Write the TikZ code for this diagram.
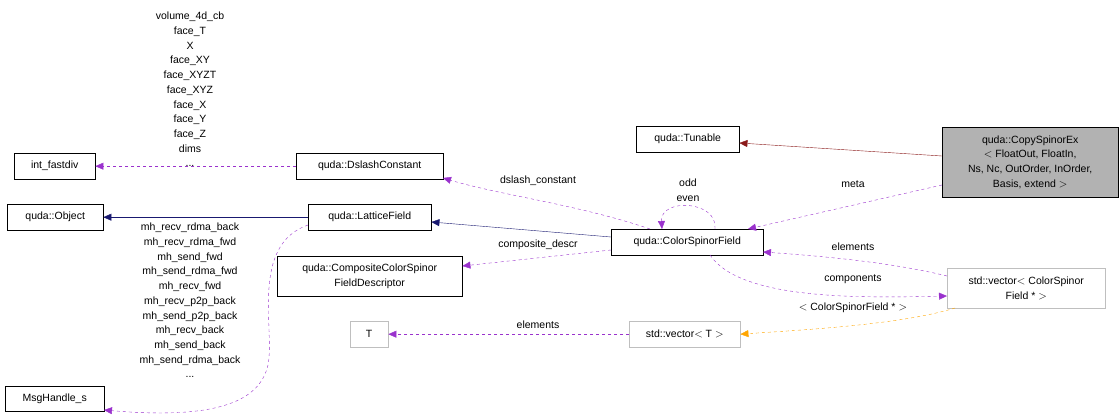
\documentclass[tikz,border=0pt]{standalone}
\usepackage{fontspec}
\setmainfont{Liberation Sans}
\usetikzlibrary{arrows.meta}
\definecolor{pur}{HTML}{9A32CD}
\definecolor{nav}{HTML}{191970}
\definecolor{drd}{HTML}{8B1A1A}
\definecolor{org}{HTML}{FFA500}
\begin{document}
\begin{tikzpicture}[x=1pt,y=-1pt,font=\fontsize{10.5}{14.7}\selectfont,
 box/.style={draw=black,fill=white,inner sep=0pt,align=center,anchor=north west},
 gbox/.style={box,draw=gray!50},
 dep/.style={draw=pur,dashed,-{Triangle[length=8pt,width=7pt,fill=pur]}},
 inh/.style={draw=nav,-{Triangle[length=8pt,width=7pt,fill=nav]}},
 tun/.style={draw=drd,-{Triangle[length=8pt,width=7pt,fill=drd]}},
 tpl/.style={draw=org,dashed,-{Triangle[length=8pt,width=7pt,fill=org]}},
 lab/.style={inner sep=0pt,align=center}]
\useasboundingbox (0,0) rectangle (1120,420);
\node[box,fill=gray!60,minimum width=176pt,minimum height=70pt] (cse) at (942,127) {quda::CopySpinorEx\\$<$ FloatOut, FloatIn,\\ Ns, Nc, OutOrder, InOrder,\\Basis, extend $>$};
\node[box,minimum width=103pt,minimum height=26pt] (tun) at (636,126) {quda::Tunable};
\node[box,minimum width=81pt,minimum height=26pt] (ifd) at (14,153) {int\_fastdiv};
\node[box,minimum width=147pt,minimum height=26pt] (dc) at (296,153) {quda::DslashConstant};
\node[box,minimum width=96pt,minimum height=26pt] (obj) at (7,204) {quda::Object};
\node[box,minimum width=123pt,minimum height=26pt] (lf) at (308,204) {quda::LatticeField};
\node[box,minimum width=152pt,minimum height=26pt] (csf) at (611,229) {quda::ColorSpinorField};
\node[box,minimum width=185pt,minimum height=40pt] (ccd) at (277,256) {quda::CompositeColorSpinor\\FieldDescriptor};
\node[gbox,minimum width=158pt,minimum height=40pt] (vcs) at (947,268) {std::vector$<$ ColorSpinor\\Field * $>$};
\node[gbox,minimum width=38pt,minimum height=26pt] (t) at (350,321) {T};
\node[gbox,minimum width=111pt,minimum height=26pt] (vt) at (629,321) {std::vector$<$ T $>$};
\node[box,minimum width=99pt,minimum height=25pt] (mh) at (5,386) {MsgHandle\_s};

\draw[tun] (cse.west|-0,156) -- (tun.east|-0,143);
\draw[dep] (cse.west|-0,185) -- (748,229);
\node[lab] at (853,184) {meta};
\draw[dep] (dc.west) -- (ifd.east);
\node[lab,anchor=south] at (190,167) {volume\_4d\_cb\\face\_T\\X\\face\_XY\\face\_XYZT\\face\_XYZ\\face\_X\\face\_Y\\face\_Z\\dims\\...};
\draw[inh] (lf.west) -- (obj.east);
\draw[inh] (csf.west|-0,237) -- (lf.east|-0,222);
\draw[dep] (650,229) .. controls (580,205) and (500,195) .. (443,178);
\node[lab] at (538,181) {dslash\_constant};
\draw[dep] (715,229) .. controls (718,200) and (660,198) .. (662,229);
\node[lab] at (688,190) {odd\\even};
\draw[dep] (csf.west|-0,250) -- (ccd.east|-0,266);
\node[lab] at (538,245) {composite\_descr};
\draw[dep] (947,276) .. controls (890,262) and (820,256) .. (763,252);
\node[lab] at (853,247) {elements};
\draw[dep] (710,255) .. controls (740,300) and (860,298) .. (947,296);
\node[lab] at (853,279) {components};
\draw[tpl] (955,308) .. controls (900,325) and (800,330) .. (vt.east);
\node[lab] at (853,308) {$<$ ColorSpinorField * $>$};
\draw[dep] (vt.west) -- (t.east);
\node[lab] at (538,325) {elements};
\draw[dep] (308,225) .. controls (250,245) and (275,330) .. (268,365) .. controls (260,400) and (220,420) .. (104,410);
\node[lab,anchor=north] at (190,223) {mh\_recv\_rdma\_back\\mh\_recv\_rdma\_fwd\\mh\_send\_fwd\\mh\_send\_rdma\_fwd\\mh\_recv\_fwd\\mh\_recv\_p2p\_back\\mh\_send\_p2p\_back\\mh\_recv\_back\\mh\_send\_back\\mh\_send\_rdma\_back\\...};
\end{tikzpicture}
\end{document}
